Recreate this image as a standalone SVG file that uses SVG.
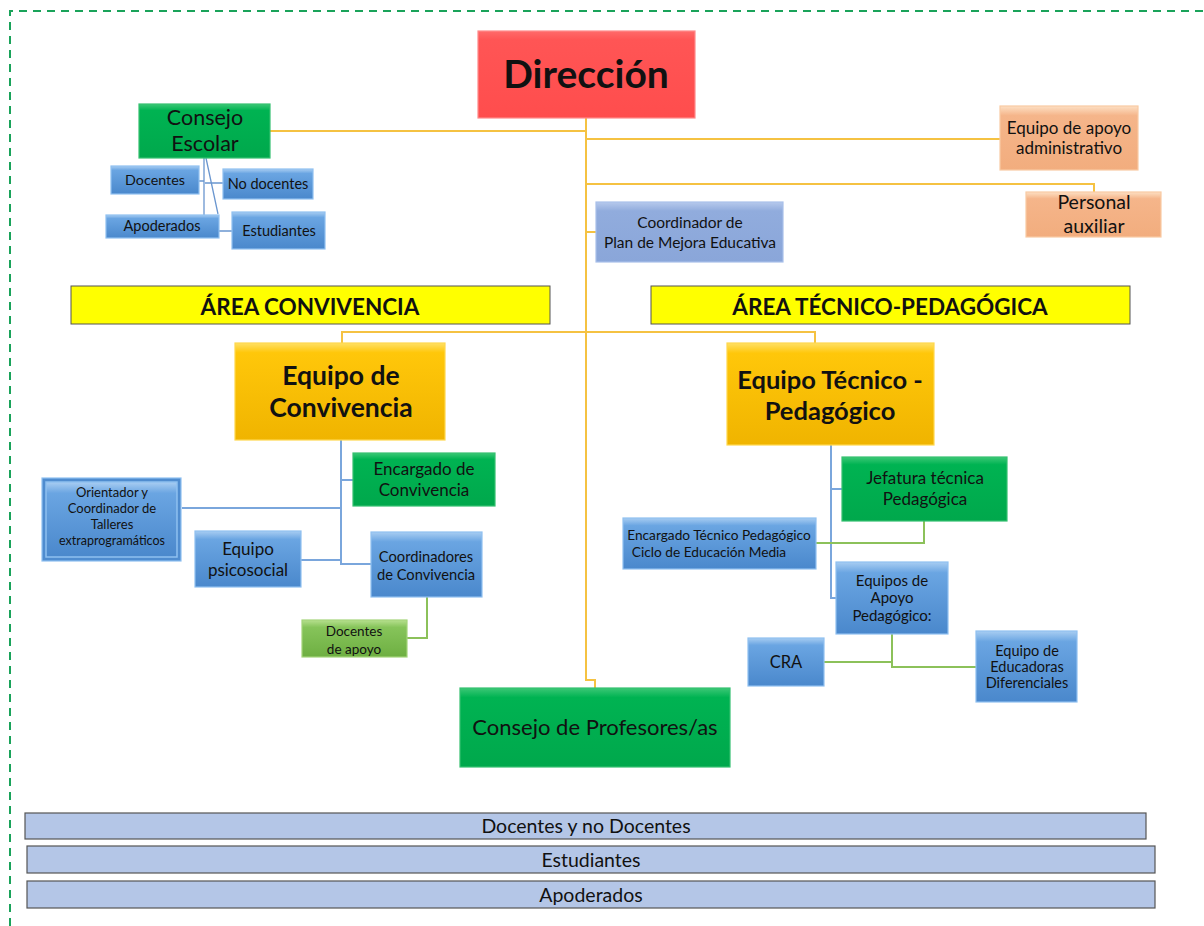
<svg xmlns="http://www.w3.org/2000/svg" width="1204" height="926" viewBox="0 0 1204 926">
<defs>
<linearGradient id="gRed" x1="0" y1="0" x2="0" y2="1"><stop offset="0" stop-color="#ff6a6a"/><stop offset="0.1" stop-color="#ff5555"/><stop offset="1" stop-color="#ff4d4d"/></linearGradient>
<linearGradient id="gGreen" x1="0" y1="0" x2="0" y2="1"><stop offset="0" stop-color="#3cc876"/><stop offset="0.12" stop-color="#00b352"/><stop offset="1" stop-color="#00a84c"/></linearGradient>
<linearGradient id="gBlue" x1="0" y1="0" x2="0" y2="1"><stop offset="0" stop-color="#a8cdf2"/><stop offset="0.15" stop-color="#6aa5e2"/><stop offset="1" stop-color="#4a88cc"/></linearGradient>
<linearGradient id="gOrange" x1="0" y1="0" x2="0" y2="1"><stop offset="0" stop-color="#fde0c4"/><stop offset="0.15" stop-color="#f5b58a"/><stop offset="1" stop-color="#f2ad7e"/></linearGradient>
<linearGradient id="gGold" x1="0" y1="0" x2="0" y2="1"><stop offset="0" stop-color="#ffe066"/><stop offset="0.1" stop-color="#ffc70a"/><stop offset="1" stop-color="#f0b400"/></linearGradient>
<linearGradient id="gLGreen" x1="0" y1="0" x2="0" y2="1"><stop offset="0" stop-color="#b7e08f"/><stop offset="0.2" stop-color="#86c45a"/><stop offset="1" stop-color="#6eaf42"/></linearGradient>
<linearGradient id="gCoord" x1="0" y1="0" x2="0" y2="1"><stop offset="0" stop-color="#b6c9ec"/><stop offset="0.15" stop-color="#91acdd"/><stop offset="1" stop-color="#8aa6d9"/></linearGradient>
</defs>
<style>
text{font-family:Lato,"Open Sans","Liberation Sans",sans-serif;fill:#111;text-anchor:middle}
.b{font-weight:bold}
.box{stroke-width:1.2}
.red{fill:url(#gRed);stroke:#ff8a8a}
.green{fill:url(#gGreen);stroke:#35c070}
.blue{fill:url(#gBlue);stroke:#8fc0f0}
.orange{fill:url(#gOrange);stroke:#f9caa3}
.gold{fill:url(#gGold);stroke:#ffd84d}
.lgreen{fill:url(#gLGreen);stroke:#a4d47a}
.coord{fill:url(#gCoord);stroke:#a9c0ea}
.banner{fill:#ffff00;stroke:#555;stroke-width:1}
.bar{fill:#b4c6e7;stroke:#555;stroke-width:1.2}
.ly{stroke:#f5c242;stroke-width:2;fill:none}
.lb{stroke:#7aa6dc;stroke-width:2;fill:none}
.lg{stroke:#8cc15a;stroke-width:2;fill:none}
.lbs{stroke:#6a96cf;stroke-width:1.3;fill:none}
</style>
<rect width="1204" height="926" fill="#fff"/>
<path d="M10 926 V11 H1204" fill="none" stroke="#1aa35a" stroke-width="2" stroke-dasharray="8 6"/>

<g id="connectors">
<path class="ly" d="M586 118 V680 H595 V688"/>
<path class="ly" d="M270 131 H586"/>
<path class="ly" d="M586 139 H1000"/>
<path class="ly" d="M586 184 H1094 V192"/>
<path class="ly" d="M586 232 H596"/>
<path class="ly" d="M342 344 V332 H815 V344"/>
<path class="lbs" d="M204 158 V215 M206 158 L218 214 M199 181 H204 M205 183 H223 M219 231 H232"/>
<path class="lb" d="M341 440 V564 H371 M341 480 H353 M182 508 H341 M301 560 H341"/>
<path class="lg" d="M427 597 V638 H407"/>
<path class="lb" d="M831 445 V598 H836 M831 489 H842"/>
<path class="lg" d="M924 521 V543 H816"/>
<path class="lg" d="M892 634 V667 H976 M892 662 H824"/>
</g>

<g id="direccion"><rect class="box red" x="478" y="31" width="217" height="87"/><text class="b" x="586" y="88" font-size="39">Dirección</text></g>

<g id="consejo-escolar"><rect class="box green" x="139" y="104" width="131" height="54"/><text x="205" y="125" font-size="21.5">Consejo</text><text x="205" y="151" font-size="21.5">Escolar</text></g>
<g id="docentes"><rect class="box blue" x="111" y="166" width="88" height="28"/><text x="155" y="185" font-size="14.3">Docentes</text></g>
<g id="no-docentes"><rect class="box blue" x="223" y="169" width="90" height="30"/><text x="268" y="189" font-size="14.5">No docentes</text></g>
<g id="apoderados"><rect class="box blue" x="106" y="215" width="113" height="23"/><text x="162" y="231" font-size="14.5">Apoderados</text></g>
<g id="estudiantes"><rect class="box blue" x="232" y="212" width="93" height="37"/><text x="279" y="236" font-size="14.5">Estudiantes</text></g>

<g id="apoyo-admin"><rect class="box orange" x="1000" y="106" width="138" height="64"/><text x="1069" y="134" font-size="17">Equipo de apoyo</text><text x="1069" y="154" font-size="17">administrativo</text></g>
<g id="personal-auxiliar"><rect class="box orange" x="1026" y="192" width="135" height="45"/><text x="1094" y="209" font-size="19.5">Personal</text><text x="1094" y="233" font-size="19.5">auxiliar</text></g>
<g id="coordinador-pme"><rect class="box coord" x="596" y="202" width="187" height="60"/><text x="690" y="228" font-size="15.5">Coordinador de</text><text x="690" y="248" font-size="15.5">Plan de Mejora Educativa</text></g>

<g id="area-convivencia"><rect class="banner" x="71" y="286" width="479" height="38"/><text class="b" x="310" y="315" font-size="22.5">ÁREA CONVIVENCIA</text></g>
<g id="area-tecnico"><rect class="banner" x="651" y="286" width="479" height="38"/><text class="b" x="890" y="315" font-size="22.5">ÁREA TÉCNICO-PEDAGÓGICA</text></g>

<g id="equipo-convivencia"><rect class="box gold" x="235" y="343" width="210" height="97"/><text class="b" x="341" y="385" font-size="26.5">Equipo de</text><text class="b" x="341" y="417" font-size="26.5">Convivencia</text></g>
<g id="encargado-convivencia"><rect class="box green" x="353" y="453" width="142" height="53"/><text x="424" y="475" font-size="17">Encargado de</text><text x="424" y="496" font-size="17">Convivencia</text></g>
<g id="orientador"><rect x="42" y="478" width="139" height="83" fill="#4f8ccf" stroke="#8fc0f0" stroke-width="1.2"/><rect class="blue" x="46" y="482" width="131" height="75" stroke-width="1.5" stroke="#9cc8f2"/><text x="112" y="497" font-size="13">Orientador y</text><text x="112" y="513" font-size="13">Coordinador de</text><text x="112" y="529" font-size="13">Talleres</text><text x="112" y="545" font-size="12.5">extraprogramáticos</text></g>
<g id="equipo-psicosocial"><rect class="box blue" x="195" y="531" width="106" height="56"/><text x="248" y="555" font-size="17">Equipo</text><text x="248" y="576" font-size="17">psicosocial</text></g>
<g id="coordinadores-convivencia"><rect class="box blue" x="371" y="532" width="111" height="65"/><text x="426" y="562" font-size="14.7">Coordinadores</text><text x="426" y="580" font-size="14.7">de Convivencia</text></g>
<g id="docentes-apoyo"><rect class="box lgreen" x="302" y="620" width="105" height="37"/><text x="354" y="636" font-size="13.5">Docentes</text><text x="354" y="654" font-size="13.5">de apoyo</text></g>

<g id="equipo-tecnico"><rect class="box gold" x="727" y="343" width="207" height="102"/><text class="b" x="830" y="389" font-size="25.5">Equipo Técnico -</text><text class="b" x="830" y="420" font-size="25.5">Pedagógico</text></g>
<g id="jefatura"><rect class="box green" x="842" y="457" width="165" height="64"/><text x="925" y="484" font-size="17">Jefatura técnica</text><text x="925" y="505" font-size="17">Pedagógica</text></g>
<g id="encargado-tecnico"><rect class="box blue" x="623" y="518" width="193" height="51"/><text x="719" y="540" font-size="13.7">Encargado Técnico Pedagógico</text><text x="709" y="557" font-size="13.7">Ciclo de Educación Media</text></g>
<g id="equipos-apoyo"><rect class="box blue" x="836" y="562" width="112" height="72"/><text x="892" y="586" font-size="15">Equipos de</text><text x="892" y="603" font-size="15">Apoyo</text><text x="892" y="621" font-size="15">Pedagógico:</text></g>
<g id="cra"><rect class="box blue" x="748" y="638" width="76" height="48"/><text x="786" y="668" font-size="16.5">CRA</text></g>
<g id="educadoras"><rect class="box blue" x="976" y="631" width="101" height="71"/><text x="1027" y="656" font-size="14.5">Equipo de</text><text x="1027" y="672" font-size="14.5">Educadoras</text><text x="1027" y="688" font-size="14.5">Diferenciales</text></g>

<g id="consejo-profesores"><rect class="box green" x="460" y="688" width="270" height="79"/><text x="595" y="735" font-size="22">Consejo de Profesores/as</text></g>

<g id="bar-docentes"><rect class="bar" x="25" y="813" width="1121" height="26"/><text x="586" y="833" font-size="19.5">Docentes y no Docentes</text></g>
<g id="bar-estudiantes"><rect class="bar" x="27" y="846" width="1128" height="27"/><text x="591" y="867" font-size="19.5">Estudiantes</text></g>
<g id="bar-apoderados"><rect class="bar" x="27" y="881" width="1128" height="27"/><text x="591" y="902" font-size="19.5">Apoderados</text></g>
</svg>
